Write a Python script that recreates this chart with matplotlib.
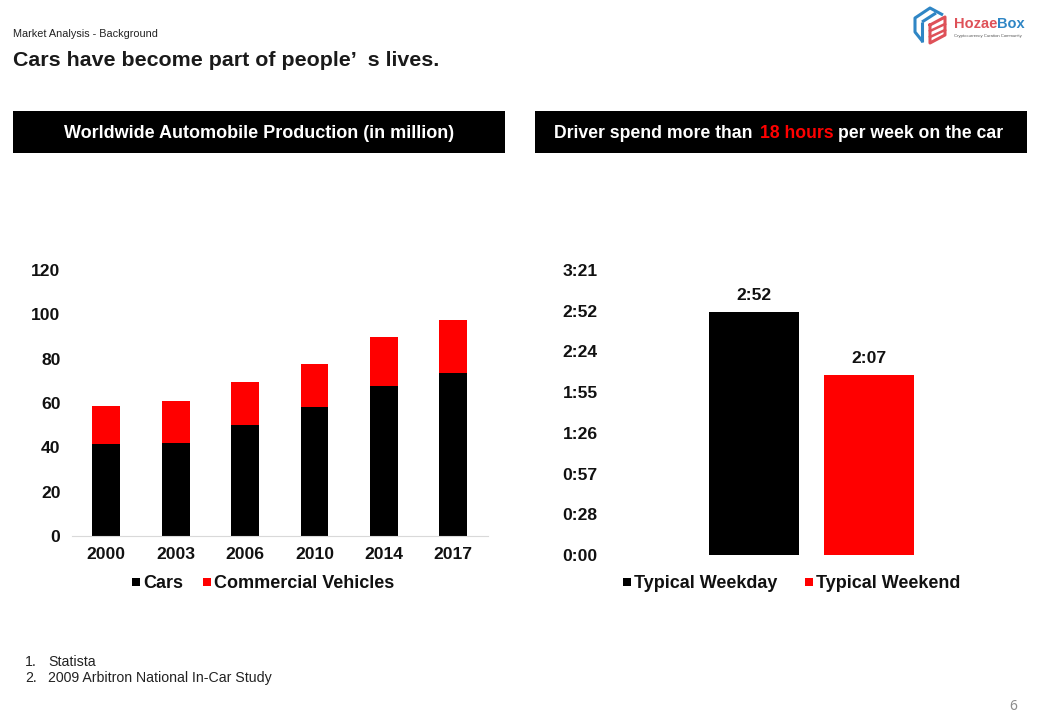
import matplotlib
matplotlib.use('Agg')
from matplotlib import pyplot
from matplotlib.patches import Rectangle

W, H = 1040, 720
BLACK = '#000000'
RED = '#ff0000'

years = ['2000', '2003', '2006', '2010', '2014', '2017']
cars = [41.4, 41.9, 50.0, 58.2, 67.5, 73.4]
commercial = [17.2, 18.9, 19.4, 19.4, 22.2, 23.9]
production_ticks = [0, 20, 40, 60, 80, 100, 120]

day_types = ['Typical Weekday', 'Typical Weekend']
day_minutes = [172, 127]
day_labels = ['2:52', '2:07']
time_ticks = [0, 28.8, 57.6, 86.4, 115.2, 144, 172.8, 201.6]
time_tick_labels = ['0:00', '0:28', '0:57', '1:26', '1:55', '2:24', '2:52', '3:21']

pyplot.rcParams['font.family'] = ['Liberation Sans', 'DejaVu Sans']


def px_axes(fig, left, top, right, bottom):
  return fig.add_axes([left / W, 1 - bottom / H, (right - left) / W, (bottom - top) / H])


def clean_axis(axis):
  for s in ['top', 'right', 'left', 'bottom']:
    axis.spines[s].set_visible(False)
  axis.tick_params(length=0)
  for t in axis.get_xticklabels() + axis.get_yticklabels():
    t.set_fontsize(12.6)
    t.set_fontweight('bold')
    t.set_color('#111111')


def square_legend(page, x, y, name, color):
  page.add_patch(Rectangle((x, y - 4), 8, 8, color=color, lw=0))
  page.text(x + 11, y + 1.5, name, fontsize=13, fontweight='bold', color='#111111',
            va='center', ha='left')


fig = pyplot.figure(figsize=(W / 100, H / 100), dpi=100)
page = fig.add_axes([0, 0, 1, 1])
page.set_xlim(0, W)
page.set_ylim(H, 0)
page.axis('off')

page.text(13, 34, 'Market Analysis - Background', fontsize=7.8, color='#222222', va='center')
page.text(13, 60, 'Cars have become part of people\u2019  s lives.', fontsize=15.4,
          fontweight='bold', color='#1a1a1a', va='center')

# header bars
page.add_patch(Rectangle((13, 111), 492, 42, color=BLACK, lw=0))
page.add_patch(Rectangle((535, 111), 492, 42, color=BLACK, lw=0))
page.text(259, 138, 'Worldwide Automobile Production (in million)', fontsize=12.95,
          fontweight='bold', color='white', ha='center', va='baseline')
for x, part, color in [(554, 'Driver spend more than', 'white'), (760, '18 hours', RED),
                       (838, 'per week on the car', 'white')]:
  page.text(x, 138, part, fontsize=12.7, fontweight='bold', color=color, va='baseline')

# production chart
ax = px_axes(fig, 71.5, 270, 488, 536)
positions = list(range(len(years)))
ax.bar(positions, cars, 0.4, color=BLACK, label='Cars')
ax.bar(positions, commercial, 0.4, bottom=cars, color=RED, label='Commercial Vehicles')
ax.set_xlim(-0.5, 5.5)
ax.set_ylim(0, 120)
ax.set_xticks(positions, years)
ax.set_yticks(production_ticks)
clean_axis(ax)
ax.spines['bottom'].set_visible(True)
ax.spines['bottom'].set_color('#d9d9d9')
ax.spines['bottom'].set_linewidth(0.8)
ax.tick_params(axis='x', pad=8)
ax.tick_params(axis='y', pad=8)
square_legend(page, 132, 582, 'Cars', BLACK)
square_legend(page, 203, 582, 'Commercial Vehicles', RED)

# time chart
ax2 = px_axes(fig, 610, 270, 1013, 555)
spots = [0, 1]
bars = ax2.bar(spots, day_minutes, 0.783, color=[BLACK, RED])
ax2.set_xlim(-1.252, 2.252)
ax2.set_ylim(0, 201.6)
ax2.set_xticks([])
ax2.set_yticks(time_ticks, time_tick_labels)
clean_axis(ax2)
ax2.tick_params(axis='y', pad=9)
for b, label in zip(bars, day_labels):
  ax2.annotate(label, (b.get_x() + b.get_width() / 2, b.get_height()), xytext=(0, 9),
               textcoords='offset pixels', ha='center', va='bottom', fontsize=12.6,
               fontweight='bold', color='#111111')
square_legend(page, 623, 582, day_types[0], BLACK)
square_legend(page, 805, 582, day_types[1], RED)

# footnotes
page.text(25, 662, '1.', fontsize=10.2, color='#222222', va='center')
page.text(48, 662, 'Statista', fontsize=10.2, color='#222222', va='center')
page.text(25, 678, '2.', fontsize=10.2, color='#222222', va='center')
page.text(48, 678, '2009 Arbitron National In-Car Study', fontsize=10.2, color='#222222', va='center')
page.text(1013, 706, '6', fontsize=10, color='#8c8c8c', ha='center', va='center', family='Noto Sans')

# logo
BLUE = '#2f86c5'
ROSE = '#de5158'
for xs, ys in [([923, 915, 915, 930, 943], [42, 32, 18, 8, 15]),
               ([922, 922], [22, 42]),
               ([922, 936], [22, 13])]:
  page.plot(xs, ys, color=BLUE, lw=2.2, solid_capstyle='butt')
page.plot([930, 945, 945, 930, 930], [25, 17, 35, 43, 25], color=ROSE, lw=2.2)
page.plot([930, 945], [31, 24], color=ROSE, lw=1.8)
page.plot([930, 945], [37, 30], color=ROSE, lw=1.8)
fig.canvas.draw()
renderer = fig.canvas.get_renderer()
t = page.text(954, 24, 'Hozae', fontsize=10.5, fontweight='bold', color=ROSE, va='center')
page.text(954 + t.get_window_extent(renderer).width, 24, 'Box', fontsize=10.5, fontweight='bold',
          color=BLUE, va='center')
page.text(954, 36, 'Cryptocurrency Curation Community', fontsize=3.1, color='#555555', va='center')

fig.savefig('out.png', dpi=100)
